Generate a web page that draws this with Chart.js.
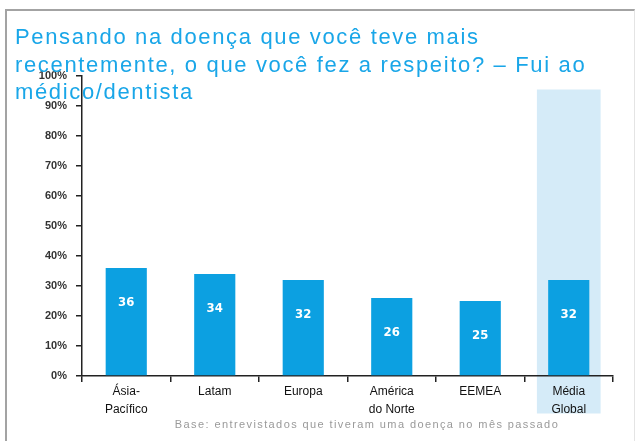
<!DOCTYPE html>
<html>
<head>
<meta charset="utf-8">
<script src="https://cdn.jsdelivr.net/npm/chart.js@4/dist/chart.umd.min.js"></script>
<style>
    html, body { margin: 0; padding: 0; background: #fff; }
    #wrap { position: relative; width: 637px; height: 441px; overflow: hidden; }
    #frame { position: absolute; left: 5px; top: 9px; width: 627px; height: 440px;
             border-top: 2px solid #a3a3a3; border-left: 2px solid #a3a3a3; border-right: 1px solid #e4e4e4; }
    #chart { position: absolute; left: 0; top: 0; }
    #title { position: absolute; left: 15px; top: 23px; width: 620px;
             font-family: "Liberation Sans", Arial, sans-serif; font-size: 22px; line-height: 27.5px;
             letter-spacing: 1.65px; color: #19a6e8; white-space: nowrap; }
    #note { position: absolute; left: 0; width: 734px; top: 418px; text-align: center;
            font-family: "Liberation Sans", Arial, sans-serif; font-size: 11px; letter-spacing: 1.4px; color: #9a9a9a; }
</style>
</head>
<body>
<div id="wrap">
    <div id="frame"></div>
    <canvas id="chart" width="637" height="441"></canvas>
    <div id="title">Pensando na doença que você teve mais<br>recentemente, o que você fez a respeito? – Fui ao<br>médico/dentista</div>
    <div id="note">Base: entrevistados que tiveram uma doença no mês passado</div>
</div>
<script>
const regions = [['Ásia-', 'Pacífico'], ['Latam'], ['Europa'], ['América', 'do Norte'], ['EEMEA'], ['Média', 'Global']];
const shares = [36, 34, 32, 26, 25, 32];
const percentTicks = [0, 10, 20, 30, 40, 50, 60, 70, 80, 90, 100];
const highlighted = 5;

// light band behind the global average column
const bandPlugin = {
    id: 'band',
    beforeDraw(chart) {
        const x = chart.scales.x, y = chart.scales.y;
        const step = (x.right - x.left) / regions.length;
        const cx = x.getPixelForValue(highlighted);
        const ctx = chart.ctx;
        ctx.save();
        ctx.fillStyle = '#d5ebf8';
        const top = y.getPixelForValue(95.5);
        const bottom = y.getPixelForValue(-12.5);
        ctx.fillRect(cx - step * 0.36, top, step * 0.72, bottom - top);
        ctx.restore();
    }
};

// values written inside bars, a fixed distance below the top
const valuePlugin = {
    id: 'values',
    afterDatasetsDraw(chart) {
        const ctx = chart.ctx;
        ctx.save();
        ctx.fillStyle = '#fff';
        ctx.font = 'bold 13px "Liberation Sans Narrow", "DejaVu Sans Condensed", sans-serif';
        ctx.textAlign = 'center';
        ctx.textBaseline = 'middle';
        chart.getDatasetMeta(0).data.forEach((bar, i) => {
            ctx.fillText(shares[i], bar.x, bar.y + 35);
        });
        ctx.restore();
    }
};

new Chart(document.getElementById('chart'), {
    type: 'bar',
    data: {
        labels: regions,
        datasets: [{
            data: shares,
            backgroundColor: '#0ca0e1',
            categoryPercentage: 0.93,
            barPercentage: 0.5
        }]
    },
    options: {
        responsive: false,
        animation: false,
        events: [],
        layout: { padding: { left: 0, right: 24, top: 76, bottom: 0 } },
        plugins: { legend: { display: false }, tooltip: { enabled: false } },
        scales: {
            x: {
                border: { color: '#222', width: 1.5 },
                grid: { display: true, drawOnChartArea: false, color: '#222', lineWidth: 1.5, tickLength: 6, offset: true },
                ticks: {
                    color: '#111', padding: 1,
                    font: { family: '"Liberation Sans", Arial, sans-serif', size: 12, lineHeight: 1.5 },
                    maxRotation: 0, autoSkip: false
                },
                afterFit(scale) { scale.height = 65; }
            },
            y: {
                min: 0, max: 100,
                border: { color: '#222', width: 1.5 },
                grid: { display: true, drawOnChartArea: false, color: '#222', lineWidth: 1.5, tickLength: 6 },
                afterBuildTicks(scale) { scale.ticks = percentTicks.map(v => ({ value: v })); },
                ticks: {
                    color: '#333', padding: 9,
                    font: { family: '"Liberation Sans Narrow", "Liberation Sans", sans-serif', size: 11, weight: 'bold' },
                    callback: v => v + '%'
                },
                afterFit(scale) { scale.width = 82; }
            }
        }
    },
    plugins: [bandPlugin, valuePlugin]
});
</script>
</body>
</html>
